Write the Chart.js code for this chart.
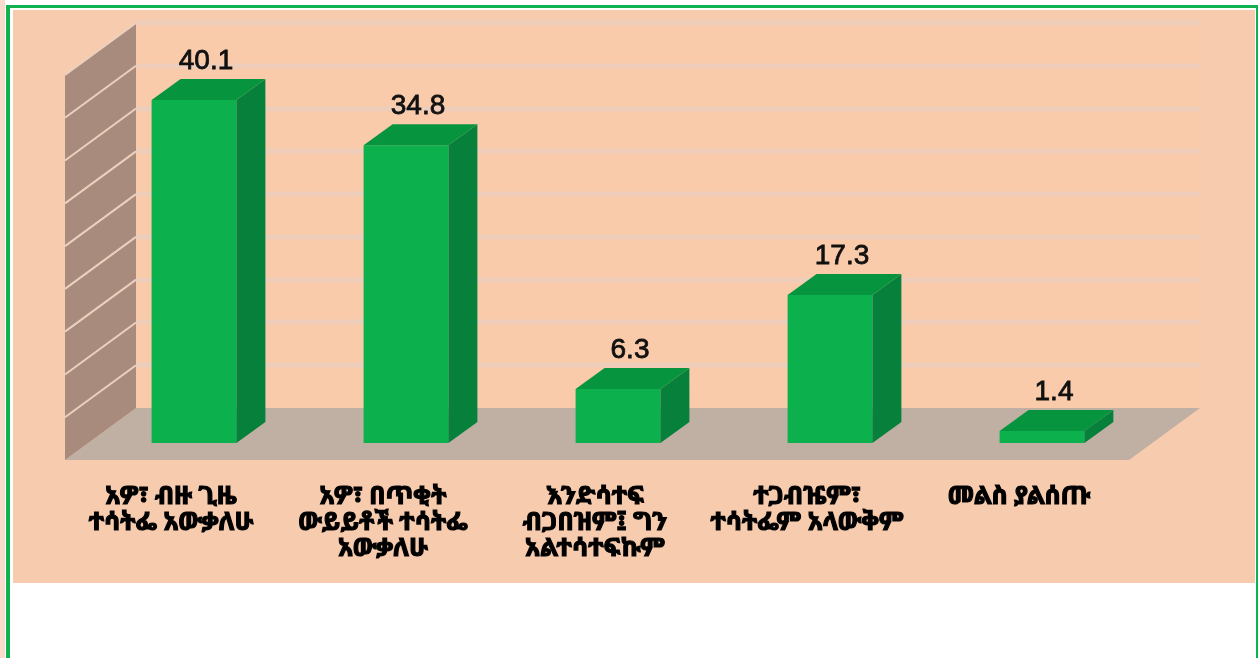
<!DOCTYPE html>
<html>
<head>
<meta charset="utf-8">
<script src="https://cdn.jsdelivr.net/npm/chart.js@4.4.0/dist/chart.umd.min.js"></script>
<style>
  html, body { margin: 0; padding: 0; background: #fff; width: 1258px; height: 658px; overflow: hidden; }
  .edge { position: absolute; left: 0; top: 0; width: 5px; height: 658px; background: #f9dccb; }
  .frame { position: absolute; left: 6px; top: 5px; width: 1252px; height: 660px; box-sizing: border-box;
           border: solid #10b14f; border-width: 3px 2px 0 4px; background: #fff; }
  .panel { position: absolute; left: 13px; top: 10px; width: 1242px; height: 573px; background: #f7cbae; }
  canvas { position: absolute; left: 0; top: 0; }
</style>
</head>
<body>
<div class="edge"></div>
<div class="frame"></div>
<div class="panel"></div>
<canvas id="chart" width="1258" height="658"></canvas>
<script>
// Data
const categories = [
  ["አዎ፣ ብዙ ጊዜ", "ተሳትፌ አውቃለሁ"],
  ["አዎ፣ በጥቂት", "ውይይቶች ተሳትፌ", "አውቃለሁ"],
  ["እንድሳተፍ", "ብጋበዝም፤ ግን", "አልተሳተፍኩም"],
  ["ተጋብዤም፣", "ተሳትፌም አላውቅም"],
  ["መልስ ያልሰጡ"],
];
const values = [40.1, 34.8, 6.3, 17.3, 1.4];
const yMax = 45;
const yStep = 5;

// 3D offsets (pixels) from the bars' front plane
const FRONT = { dx: -23, dy: 17 };  // front edge of the floor
const BACK = { dx: 48, dy: -35 };   // back wall
const DEPTH = { dx: 29, dy: -21 };  // depth of each bar

const ethiopic = '"Noto Sans Ethiopic", "Abyssinica SIL", "FreeSerif", "DejaVu Sans", sans-serif';

function poly(ctx, pts) {
  ctx.beginPath();
  ctx.moveTo(pts[0][0], pts[0][1]);
  for (let i = 1; i < pts.length; i++) ctx.lineTo(pts[i][0], pts[i][1]);
  ctx.closePath();
  ctx.fill();
}

// walls, floor and grid
const room = {
  id: "room",
  beforeDatasetsDraw(chart) {
    const { ctx, chartArea: a, scales: { y } } = chart;
    const base = y.getPixelForValue(0);
    const top = y.getPixelForValue(yMax);
    const L = a.left, R = a.right + 4;
    ctx.save();

    // back wall
    ctx.fillStyle = "#f9cbaa";
    ctx.fillRect(L + BACK.dx, top + BACK.dy, R - L, base - top);
    ctx.strokeStyle = "#eecdba";
    ctx.lineWidth = 5;
    y.ticks.forEach((t) => {
      if (t.value <= 0) return;
      const yy = Math.round(y.getPixelForValue(t.value) + BACK.dy);
      ctx.beginPath();
      ctx.moveTo(L + BACK.dx, yy);
      ctx.lineTo(R + BACK.dx, yy);
      ctx.stroke();
    });

    // floor
    ctx.fillStyle = "#bfb0a3";
    poly(ctx, [
      [L + FRONT.dx, base + FRONT.dy],
      [R + FRONT.dx, base + FRONT.dy],
      [R + BACK.dx, base + BACK.dy],
      [L + BACK.dx, base + BACK.dy],
    ]);

    // left wall
    ctx.fillStyle = "#a98b7d";
    poly(ctx, [
      [L + BACK.dx, top + BACK.dy],
      [L + BACK.dx, base + BACK.dy],
      [L + FRONT.dx, base + FRONT.dy],
      [L + FRONT.dx, top + FRONT.dy],
    ]);
    ctx.strokeStyle = "#ecd0bd";
    ctx.lineWidth = 2;
    y.ticks.forEach((t) => {
      if (t.value <= 0) return;
      const yy = y.getPixelForValue(t.value);
      ctx.beginPath();
      ctx.moveTo(L + FRONT.dx, yy + FRONT.dy);
      ctx.lineTo(L + BACK.dx, yy + BACK.dy);
      ctx.stroke();
    });
    ctx.restore();
  },
  afterDatasetsDraw(chart) {
    const { ctx } = chart;
    const meta = chart.getDatasetMeta(0);
    ctx.save();
    meta.data.forEach((bar, i) => {
      const { x, y, base, width } = bar.getProps(["x", "y", "base", "width"], true);
      const l = x - width / 2, r = x + width / 2;
      // side face
      ctx.fillStyle = "#06803a";
      poly(ctx, [[r, y], [r + DEPTH.dx, y + DEPTH.dy], [r + DEPTH.dx, base + DEPTH.dy], [r, base]]);
      // top face
      ctx.fillStyle = "#07943f";
      poly(ctx, [[l, y], [l + DEPTH.dx, y + DEPTH.dy], [r + DEPTH.dx, y + DEPTH.dy], [r, y]]);
      // value label
      ctx.fillStyle = "#111";
      ctx.strokeStyle = "#111";
      ctx.lineWidth = 0.8;
      ctx.font = '28px "Liberation Sans", Arial, sans-serif';
      ctx.textAlign = "center";
      ctx.textBaseline = "alphabetic";
      const label = values[i].toFixed(1);
      ctx.fillText(label, x + 12, y + DEPTH.dy - 10);
      ctx.strokeText(label, x + 12, y + DEPTH.dy - 10);
    });
    ctx.restore();
  },
};

new Chart(document.getElementById("chart"), {
  type: "bar",
  data: {
    labels: categories,
    datasets: [
      {
        data: values,
        backgroundColor: "#0cb04c",
        borderWidth: 0,
        barPercentage: 0.4,
        categoryPercentage: 1,
      },
    ],
  },
  options: {
    responsive: false,
    animation: false,
    devicePixelRatio: 1,
    layout: { padding: { left: 88, right: 110, top: 58, bottom: 0 } },
    scales: {
      x: {
        grid: { display: false, drawTicks: false },
        border: { display: false },
        ticks: {
          color: "#000",
          textStrokeColor: "#000",
          textStrokeWidth: 1.2,
          padding: 41,
          labelOffset: -23,
          maxRotation: 0,
          autoSkip: false,
          font: { family: ethiopic, size: 25, weight: "bold", lineHeight: "26px" },
        },
        afterFit: (scale) => {
          scale.height = 215;
        },
      },
      y: {
        display: false,
        min: 0,
        max: yMax,
        ticks: { stepSize: yStep },
      },
    },
    plugins: {
      legend: { display: false },
      tooltip: { enabled: false },
    },
  },
  plugins: [room],
});
</script>
</body>
</html>
